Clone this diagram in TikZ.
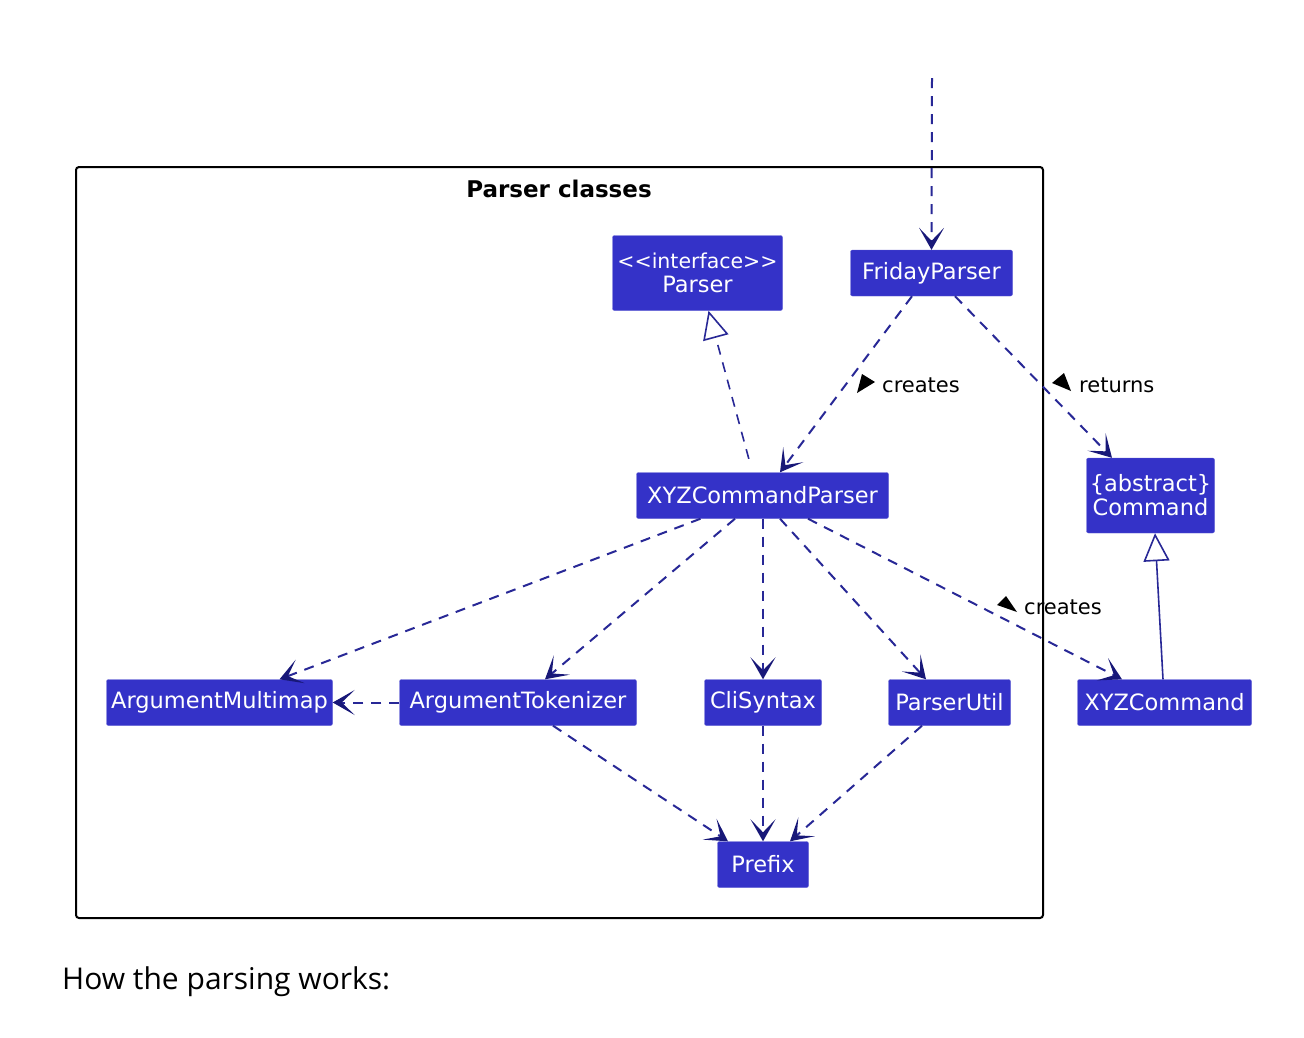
\documentclass[tikz,border=0pt]{standalone}
\usepackage{fontspec}
\setmainfont{DejaVu Sans}
\newfontfamily\bodyfont{Open Sans}
\usetikzlibrary{arrows.meta}
\definecolor{boxfill}{RGB}{52,50,200}
\definecolor{edgecol}{RGB}{40,40,150}
\definecolor{tipcol}{RGB}{24,24,120}
\tikzset{
  cls/.style={fill=boxfill, draw=boxfill!80!white, rounded corners=2pt, text=white,
    font=\fontsize{22.5}{26}\selectfont, inner sep=0pt, align=center},
  dep/.style={draw=edgecol, line width=2pt, dash pattern=on 10pt off 8pt,
    -{Stealth[length=22pt,width=25pt,inset=13pt,color=tipcol]}},
  real/.style={draw=edgecol, line width=1.6pt, dash pattern=on 10pt off 8pt,
    -{Triangle[open,length=28pt,width=26pt,fill=white]}},
  inh/.style={draw=edgecol, line width=1.6pt,
    -{Triangle[open,length=28pt,width=26pt,fill=white]}},
  lbl/.style={font=\fontsize{21}{24}\selectfont, text=black, inner sep=0pt},
  tri/.style={fill=black},
}
\begin{document}
\begin{tikzpicture}[x=1pt,y=-1pt]
\useasboundingbox (0,0) rectangle (1304,1037);
% frame
\draw[line width=2pt, rounded corners=3pt] (76,167) rectangle (1043,918);
\node[font=\bfseries\fontsize{23}{27}\selectfont] (title) at (559,189) {Parser classes};
% classes
\node[cls, minimum width=170pt, minimum height=75pt] (parser) at (697.5,273) {{\fontsize{20.5}{24}\selectfont{<}{<}interface{>}{>}}\\[-2pt]Parser};
\node[cls, minimum width=162pt, minimum height=46pt] (fp) at (931.5,273) {FridayParser};
\node[cls, minimum width=252pt, minimum height=46pt] (xyzp) at (762.5,495.5) {XYZCommandParser};
\node[cls, minimum width=128pt, minimum height=75pt] (cmd) at (1150.5,495.5) {\{abstract\}\\[-2pt]Command};
\node[cls, minimum width=226pt, minimum height=46pt] (am) at (219.5,702.5) {ArgumentMultimap};
\node[cls, minimum width=237pt, minimum height=46pt] (at) at (518,702.5) {ArgumentTokenizer};
\node[cls, minimum width=117pt, minimum height=46pt] (cli) at (763,702.5) {CliSyntax};
\node[cls, minimum width=122pt, minimum height=46pt] (pu) at (949.5,702.5) {ParserUtil};
\node[cls, minimum width=174pt, minimum height=46pt] (xyzc) at (1164.5,702.5) {XYZCommand};
\node[cls, minimum width=91pt, minimum height=46pt] (prefix) at (763,864.5) {Prefix};
% incoming
\coordinate (in) at (932,78);
\draw[dep] (in) -- (fp.north);
% edges
\draw[real, shorten <=14pt] ([xshift=-10pt]xyzp.north) -- ([xshift=11pt]parser.south);
\draw[dep] ([xshift=-19.5pt]fp.south) -- ([xshift=17.5pt]xyzp.north);
\draw[dep] ([xshift=23.5pt]fp.south) -- ([xshift=-38.5pt]cmd.north);
\draw[dep] ([xshift=-62pt]xyzp.south) -- ([xshift=60pt]am.north);
\draw[dep] ([xshift=-27.5pt]xyzp.south) -- ([xshift=27pt]at.north);
\draw[dep] ([xshift=0.5pt]xyzp.south) -- (cli.north);
\draw[dep] ([xshift=17.5pt]xyzp.south) -- ([xshift=-23.5pt]pu.north);
\draw[dep] ([xshift=45.5pt]xyzp.south) -- ([xshift=-42.5pt]xyzc.north);
\draw[dep] (at.west) -- (am.east);
\draw[dep] ([xshift=35pt]at.south) -- ([xshift=-35pt]prefix.north);
\draw[dep] (cli.south) -- (prefix.north);
\draw[dep] ([xshift=-27.5pt]pu.south) -- ([xshift=27pt]prefix.north);
\draw[inh] ([xshift=-1.5pt]xyzc.north) -- ([xshift=4.5pt]cmd.south);
% labels
\fill[tri] (862,374) -- (875,382) -- (857,393) -- cycle;
\node[lbl, anchor=west] (l1) at (882,385) {creates};
\fill[tri] (1052,383) -- (1064,373) -- (1071,391) -- cycle;
\node[lbl, anchor=west] (l2) at (1079,385) {returns};
\fill[tri] (997,605) -- (1006,596) -- (1017,612) -- cycle;
\node[lbl, anchor=west] (l3) at (1024,607) {creates};
% caption
\node[font=\bodyfont\fontsize{30}{36}\selectfont, anchor=west, inner sep=0pt] (cap) at (62,982) {How the parsing works:};
\end{tikzpicture}
\end{document}
